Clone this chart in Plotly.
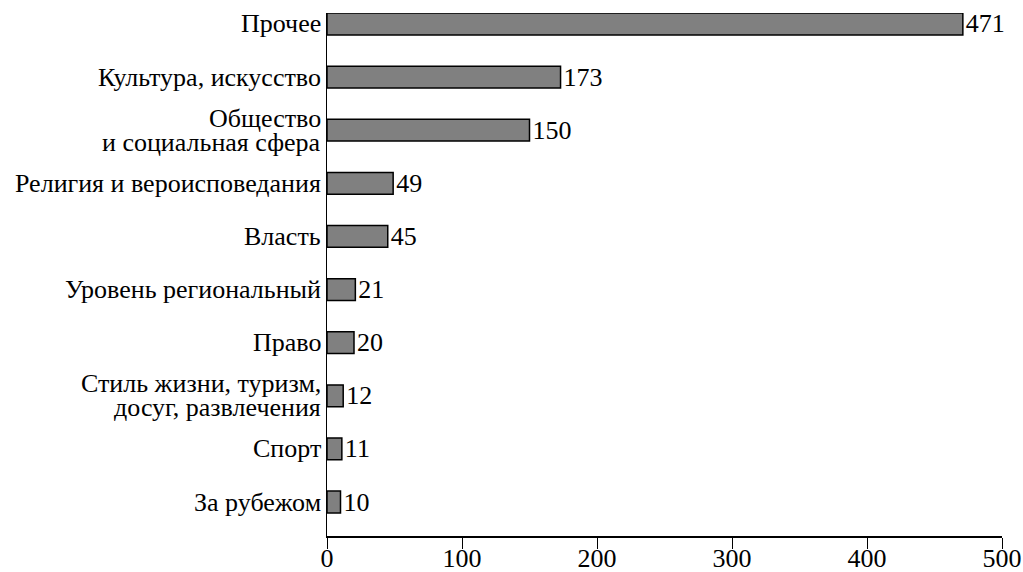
import plotly.graph_objects as go

categories = [
    "За рубежом",
    "Спорт",
    "Стиль жизни, туризм,<br>досуг, развлечения",
    "Право",
    "Уровень региональный",
    "Власть",
    "Религия и вероисповедания",
    "Общество<br>и социальная сфера",
    "Культура, искусство",
    "Прочее",
]
values = [10, 11, 12, 20, 21, 45, 49, 150, 173, 471]
x_ticks = [0, 100, 200, 300, 400, 500]

FONT = "Liberation Serif"
FS = 26

fig = go.Figure(
    go.Bar(
        x=values,
        y=categories,
        orientation="h",
        width=0.41,
        marker=dict(color="#808080", line=dict(color="black", width=1.5)),
        text=[str(v) for v in values],
        textposition="outside",
        constraintext="none",
        textfont=dict(family=FONT, size=FS, color="black"),
        outsidetextfont=dict(family=FONT, size=FS, color="black"),
        cliponaxis=False,
        hoverinfo="skip",
    )
)

# Category labels as annotations (tighter line spacing for two-line labels)
LINE_GAP = 24
for cat in categories:
    lines = cat.split("<br>")
    n = len(lines)
    for i, line in enumerate(lines):
        shift = ((n - 1) / 2 - i) * LINE_GAP
        fig.add_annotation(
            x=0, xref="paper", xanchor="right", xshift=-4,
            y=cat, yref="y", yanchor="middle", yshift=shift,
            text=line, showarrow=False,
            font=dict(family=FONT, size=FS, color="black"),
        )

fig.update_layout(
    width=1023,
    height=572,
    margin=dict(l=327, r=21, t=13, b=36),
    paper_bgcolor="white",
    plot_bgcolor="white",
    showlegend=False,
    font=dict(family=FONT, size=FS, color="black"),
    uniformtext=dict(mode=False),
)
fig.update_xaxes(
    range=[0, 500],
    tickvals=x_ticks,
    ticks="outside",
    ticklen=11,
    tickwidth=1,
    tickcolor="black",
    showline=True,
    linecolor="black",
    linewidth=1.5,
    showgrid=False,
    zeroline=False,
    automargin=False,
    ticklabelstandoff=-13,
    tickfont=dict(family=FONT, size=FS, color="black"),
)
fig.update_yaxes(
    type="category",
    range=[-0.64, 9.207],
    showline=True,
    linecolor="black",
    linewidth=1.5,
    ticks="",
    showticklabels=False,
    showgrid=False,
    zeroline=False,
    automargin=False,
)

fig.write_html(
    "out.html",
    config={"displayModeBar": False, "staticPlot": True},
    post_script="document.body.style.margin='0';document.body.style.overflow='hidden';",
)
